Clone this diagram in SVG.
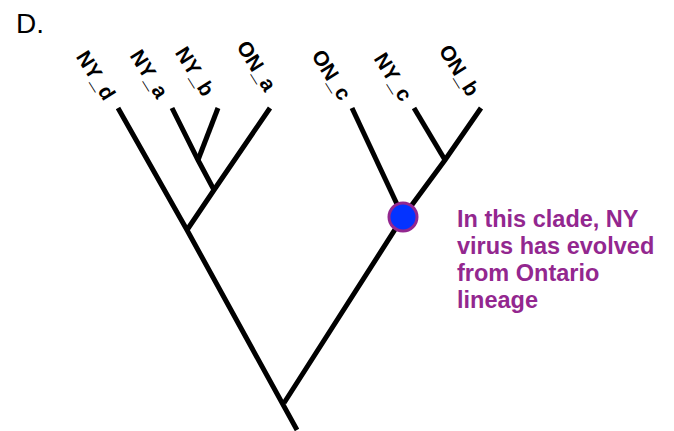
<svg xmlns="http://www.w3.org/2000/svg" width="674" height="431" viewBox="0 0 674 431">
  <style>
    .branch { fill: none; stroke: #000; stroke-width: 5; stroke-linecap: butt; stroke-linejoin: miter; }
    .tip { font-family: "Liberation Sans", Arial, Helvetica, sans-serif; font-weight: bold; font-size: 21px; fill: #000; text-anchor: end; }
    .note { font-family: "Liberation Sans", Arial, Helvetica, sans-serif; font-weight: bold; font-size: 23.5px; fill: #93278f; }
    .panel { font-family: "Liberation Sans", Arial, Helvetica, sans-serif; font-size: 28px; fill: #000; }
  </style>
  <rect width="674" height="431" fill="#fff"/>

  <text class="panel" x="16" y="33">D.</text>

  <!-- tree branches -->
  <g id="connectors">
    <path class="branch" d="M297,430 L187,230 L118,108"/>
    <path class="branch" d="M187,230 L214,190 L270,108"/>
    <path class="branch" d="M214,190 L198,160 L172,108"/>
    <path class="branch" d="M198,160 L218,108"/>
    <path class="branch" d="M284,403 L403,217 L445,160 L481,108"/>
    <path class="branch" d="M403,217 L352,108"/>
    <path class="branch" d="M445,160 L414,108"/>
  </g>

  <!-- tip labels -->
  <g id="NY_d"><text class="tip" transform="translate(104,102) rotate(58)">NY_d</text></g>
  <g id="NY_a"><text class="tip" transform="translate(157,100) rotate(58)">NY_a</text></g>
  <g id="NY_b"><text class="tip" transform="translate(203,98) rotate(58)">NY_b</text></g>
  <g id="ON_a"><text class="tip" transform="translate(265,93) rotate(58)">ON_a</text></g>
  <g id="ON_c"><text class="tip" transform="translate(340,102) rotate(58)">ON_c</text></g>
  <g id="NY_c"><text class="tip" transform="translate(401,103) rotate(58)">NY_c</text></g>
  <g id="ON_b"><text class="tip" transform="translate(468,98) rotate(58)">ON_b</text></g>

  <!-- highlighted clade node -->
  <g id="clade_node">
    <circle cx="403" cy="217" r="14" fill="#0433ff" stroke="#93278f" stroke-width="3"/>
  </g>

  <g id="clade_note">
    <text class="note" x="457" y="227">In this clade, NY</text>
    <text class="note" x="457" y="254">virus has evolved</text>
    <text class="note" x="457" y="281">from Ontario</text>
    <text class="note" x="457" y="308">lineage</text>
  </g>
</svg>
